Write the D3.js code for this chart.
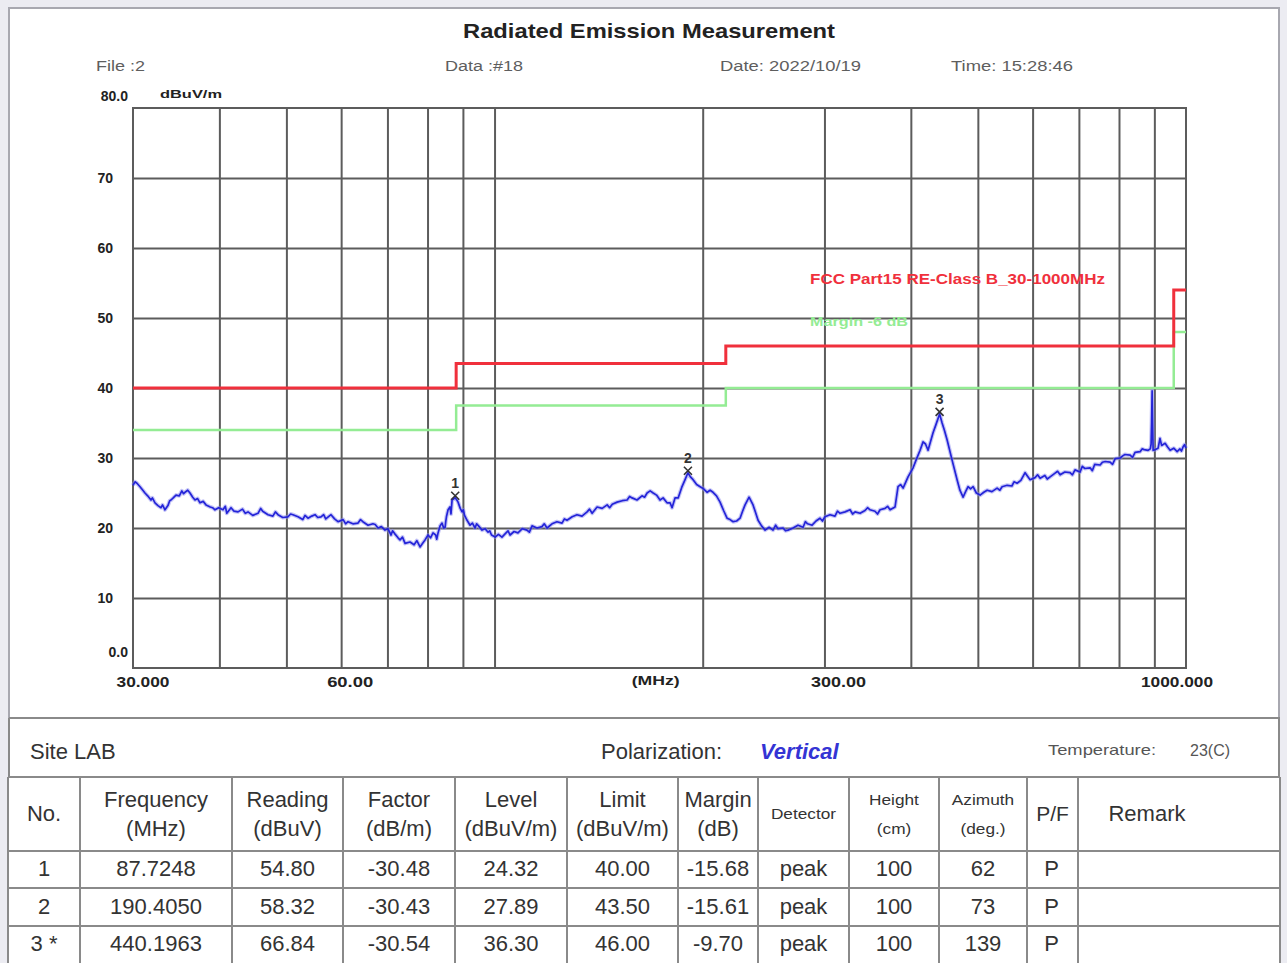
<!DOCTYPE html>
<html><head><meta charset="utf-8">
<script src="https://cdn.jsdelivr.net/npm/d3@7"></script>
<style>
body{margin:0;background:#ececf2}
svg{display:block}
text{font-family:"Liberation Sans",Arial,sans-serif}
</style>
</head><body>
<svg id="c" width="1287" height="963"></svg>
<script>
// ---------------- data ----------------
const traceFreq = [30.0,30.4,30.71,31.0,31.22,31.5,31.85,32.0,32.28,32.6,32.93,33.1,33.37,33.7,34.05,34.3,34.62,35.0,35.3,35.67,36.0,36.27,36.6,36.88,37.2,37.5,37.9,38.26,38.8,39.42,39.9,40.48,41.0,41.58,42.0,42.56,43.2,44.0,44.7,45.49,46.2,47.03,47.8,48.62,49.4,50.27,51.1,51.97,52.8,53.73,54.4,55.0,55.5,56.11,57.0,58.01,58.7,59.38,60.4,61.39,62.4,63.47,64.5,65.62,66.7,67.85,68.6,69.44,70.1,70.85,71.7,72.52,73.0,73.6,74.23,75.47,76.5,78.03,78.8,79.34,80.14,80.8,81.48,82.2,82.85,83.4,83.96,84.4,84.81,85.2,85.66,86.2,86.81,87.72,88.2,88.56,89.2,89.75,90.5,91.25,92.17,92.9,93.72,94.8,95.93,96.9,97.87,99.0,100.2,101.3,102.5,103.9,105.3,106.7,108.1,109.7,111.4,113.3,115.2,117.1,119.1,121.1,123.1,125.2,127.3,129.5,131.6,133.8,136.1,138.4,140.7,143.1,145.5,148.0,150.4,153.0,155.5,158.1,160.7,163.4,166.2,167.9,169.6,171.5,173.5,175.3,177.6,179.4,180.6,182.4,184.3,186.5,188.6,190.4,192.0,193.7,196.0,198.3,200.6,203.0,205.0,207.0,209.4,211.9,214.4,216.9,219.1,221.3,223.9,226.5,228.4,230.3,233.4,236.5,238.5,240.5,243.3,246.2,249.5,252.8,257.0,261.4,265.7,270.2,274.7,279.4,283.6,287.9,291.7,295.6,300.5,305.6,310.7,316.0,321.3,326.7,332.2,337.8,343.4,349.2,355.0,361.0,367.1,373.3,379.5,383.3,386.5,389.8,396.3,403.0,407.0,412.5,416.6,420.0,423.6,430.7,435.0,440.2,443.9,447.5,451.3,458.9,466.6,471.0,476.0,480.0,484.0,488.0,492.2,497.5,503.8,510.0,515.7,524.0,533.1,542.0,551.2,560.0,569.8,577.0,585.2,590.0,595.0,605.0,615.2,625.0,636.0,646.0,657.6,668.0,679.8,691.0,702.8,714.0,726.6,738.0,751.3,764.0,776.7,790.0,803.0,816.0,830.2,844.0,858.3,870.0,881.5,888.0,890.3,891.8,893.3,894.8,896.3,903.0,911.3,922.0,932.8,940.0,948.5,960.0,970.9,980.0,990.5,995.0,1000.0,
  30.2,33.9,35.5,39.1,40.8,43.6,45.9,48.2,50.7,53.2,56.6,60.9,64.0,67.2,71.2,77.2,82.5,85.0,86.5,90.1,94.2,98.4,104.6,112.3,118.0,126.2,137.2,146.7,156.8,164.8,255.0,263.5,281.5,298.0,313.3,329.5,346.3,358.0,370.2,538.0,564.0,610.0,630.0,652.0,685.0,708.0,732.0,757.0,783.0,810.0,837.0,864.0,917.0,985.0];
const traceLevel = [26.1,26.4,25.9,25.4,25.0,24.6,24.0,24.3,23.6,23.2,22.9,23.3,22.6,23.2,24.0,24.3,24.7,24.6,25.3,25.1,25.4,25.0,24.4,24.0,24.2,23.6,23.8,23.3,23.0,22.6,22.9,22.6,22.1,22.9,22.4,22.3,22.7,22.3,21.8,22.1,22.4,21.9,21.7,21.9,21.5,21.6,21.9,21.6,21.2,21.4,21.7,21.9,21.5,21.6,21.3,21.9,21.3,20.9,21.2,20.9,20.6,20.7,20.9,20.4,20.6,20.0,20.2,19.7,19.9,19.0,19.2,18.6,18.3,18.7,17.8,18.0,17.6,17.3,17.9,18.3,19.0,18.6,19.3,19.0,19.3,20.3,20.7,20.0,20.1,21.6,22.6,23.0,24.0,24.32,24.0,23.7,22.8,22.3,21.8,21.1,20.4,20.7,20.0,20.3,19.7,19.9,19.4,19.0,18.7,19.1,18.7,19.3,19.0,19.5,19.3,19.9,19.7,20.3,20.0,20.2,20.0,20.6,20.9,20.7,21.1,21.6,21.9,21.7,22.3,22.1,23.0,22.8,23.3,23.4,23.7,23.9,24.0,24.3,24.0,24.6,25.0,25.3,25.0,24.7,24.0,24.3,23.6,23.6,22.9,24.3,24.3,25.8,26.9,27.89,27.3,26.9,26.2,25.9,25.6,25.1,25.4,25.1,24.6,23.7,22.5,21.4,21.2,20.9,21.0,21.4,22.4,23.3,24.4,23.3,22.2,21.1,20.3,19.7,20.1,19.7,19.9,20.0,19.7,20.0,20.4,20.1,20.6,20.4,21.0,21.4,21.6,21.9,21.7,22.1,22.3,22.6,22.3,22.1,22.5,22.6,22.4,22.6,22.8,22.6,23.0,25.9,26.2,25.7,27.3,28.6,29.7,31.1,32.3,32.0,31.1,33.6,34.8,36.3,35.0,33.9,32.6,29.7,26.9,25.4,24.4,25.2,25.9,25.6,25.9,25.0,24.7,25.1,25.4,25.2,25.7,25.9,26.1,26.0,26.4,26.8,27.9,27.4,26.9,27.2,27.1,27.5,27.3,27.8,27.6,28.0,27.9,28.3,28.0,28.5,28.6,29.1,29.0,29.5,29.4,29.9,30.0,30.5,30.4,30.8,30.9,31.2,31.1,31.3,32.0,35.1,39.6,35.0,31.1,31.2,31.4,31.8,32.1,31.6,31.1,31.4,30.9,31.3,31.6,31.9,31.4,
  26.6,23.9,24.9,22.9,23.1,22.1,22.8,22.3,22.0,21.8,21.9,20.6,21.2,20.5,19.6,18.2,18.4,20.9,22.0,22.6,20.6,19.6,19.6,19.4,20.6,21.3,22.7,22.9,24.5,24.4,20.4,19.6,20.9,21.0,22.4,22.0,22.9,22.0,23.1,25.4,26.6,27.6,27.0,28.1,27.6,28.8,28.2,29.4,29.1,30.3,30.1,31.3,32.8,31.0];

const limitFreq = [30, 88, 216, 960, 1000];
const limitLevel = [40, 43.5, 46, 54, 54];
const marginLevel = [34, 37.5, 40, 48, 48];

const markerNo = ["1", "2", "3"];
const markerFreq = [87.7248, 190.4050, 440.1963];
const markerLevel = [24.32, 27.89, 36.30];

const yTicks = [0, 10, 20, 30, 40, 50, 60, 70, 80];
const yTickLabels = ["0.0", "10", "20", "30", "40", "50", "60", "70", "80.0"];
const xGridValues = [40, 50, 60, 70, 80, 90, 100, 200, 300, 400, 500, 600, 700, 800, 900];
const xTickValues = [30, 60, 300, 1000];
const xTickLabels = ["30.000", "60.00", "300.00", "1000.000"];

const tableNo = ["1", "2", "3 *"];
const tableFreq = ["87.7248", "190.4050", "440.1963"];
const tableReading = ["54.80", "58.32", "66.84"];
const tableFactor = ["-30.48", "-30.43", "-30.54"];
const tableLevel = ["24.32", "27.89", "36.30"];
const tableLimit = ["40.00", "43.50", "46.00"];
const tableMargin = ["-15.68", "-15.61", "-9.70"];
const tableDetector = ["peak", "peak", "peak"];
const tableHeight = ["100", "100", "100"];
const tableAzimuth = ["62", "73", "139"];
const tablePF = ["P", "P", "P"];

// ---------------- drawing ----------------
const svg = d3.select("#c");
const plot = {l: 133, r: 1186, t: 108, b: 668};
const x = d3.scaleLog().domain([30, 1000]).range([plot.l, plot.r]);
const y = d3.scaleLinear().domain([0, 80]).range([plot.b, plot.t]);
const gridCol = "#5c5c5c";

svg.append("rect").attr("x", 9).attr("y", 8).attr("width", 1270).attr("height", 710)
  .attr("fill", "#fff").attr("stroke", "#a8a8b0").attr("stroke-width", 2);
svg.append("rect").attr("x", 9).attr("y", 718).attr("width", 1271).attr("height", 250)
  .attr("fill", "#fff");

// header
svg.append("text").attr("x", 649).attr("y", 38).attr("text-anchor", "middle")
  .attr("font-size", 21).attr("font-weight", "bold").attr("fill", "#222")
  .attr("textLength", 372).attr("lengthAdjust", "spacingAndGlyphs")
  .text("Radiated Emission Measurement");
const info = [["File :2", 96, 49], ["Data :#18", 445, 78], ["Date: 2022/10/19", 720, 141], ["Time: 15:28:46", 951, 122]];
svg.selectAll("text.info").data(info).join("text").attr("class", "info")
  .attr("x", d => d[1]).attr("y", 71).attr("font-size", 15.5).attr("fill", "#5e5e5e")
  .attr("textLength", d => d[2]).attr("lengthAdjust", "spacingAndGlyphs")
  .text(d => d[0]);

// grid via axes
const gx = svg.append("g").attr("transform", `translate(0,${plot.b})`)
  .call(d3.axisBottom(x).tickValues(xGridValues).tickSize(-(plot.b - plot.t)).tickFormat(""));
const gy = svg.append("g").attr("transform", `translate(${plot.l},0)`)
  .call(d3.axisLeft(y).tickValues(yTicks.slice(1, -1)).tickSize(-(plot.r - plot.l)).tickFormat(""));
[gx, gy].forEach(g => {
  g.select(".domain").remove();
  g.selectAll("line").attr("stroke", gridCol).attr("stroke-width", 2);
});
svg.append("rect").attr("x", plot.l).attr("y", plot.t).attr("width", plot.r - plot.l)
  .attr("height", plot.b - plot.t).attr("fill", "none").attr("stroke", gridCol).attr("stroke-width", 2);

// y labels
svg.selectAll("text.ylab").data(yTicks).join("text").attr("class", "ylab")
  .attr("x", (d, i) => (i === 0 || i === yTicks.length - 1) ? 128 : 113)
  .attr("y", (d, i) => y(d) + ((i === 0) ? -11 : (i === yTicks.length - 1 ? -7 : 5)))
  .attr("text-anchor", "end").attr("font-size", 14).attr("font-weight", "bold").attr("fill", "#222")
  .text((d, i) => yTickLabels[i]);
svg.append("text").attr("x", 160).attr("y", 98).attr("font-size", 11.5).attr("font-weight", "bold")
  .attr("fill", "#222").attr("textLength", 62).attr("lengthAdjust", "spacingAndGlyphs").text("dBuV/m");

// x labels
const xLabDx = [10, 9, 14, -9];
const xLabW = [53, 46, 55, 72];
svg.selectAll("text.xlab").data(xTickValues).join("text").attr("class", "xlab")
  .attr("x", (d, i) => x(d) + xLabDx[i] - xLabW[i] / 2).attr("y", 687)
  .attr("font-size", 14.5).attr("font-weight", "bold").attr("fill", "#222")
  .attr("textLength", (d, i) => xLabW[i]).attr("lengthAdjust", "spacingAndGlyphs")
  .text((d, i) => xTickLabels[i]);
svg.append("text").attr("x", x(171) - 24).attr("y", 685)
  .attr("font-size", 13).attr("font-weight", "bold").attr("fill", "#222")
  .attr("textLength", 48).attr("lengthAdjust", "spacingAndGlyphs").text("(MHz)");

// limit lines
const stepLine = d3.line().x(d => x(d[0])).y(d => y(d[1])).curve(d3.curveStepAfter);
svg.append("path").datum(limitFreq.map((f, i) => [f, marginLevel[i]]))
  .attr("d", stepLine).attr("fill", "none").attr("stroke", "#94ec94").attr("stroke-width", 2.5);
svg.append("path").datum(limitFreq.map((f, i) => [f, limitLevel[i]]))
  .attr("d", stepLine).attr("fill", "none").attr("stroke", "#f0303c").attr("stroke-width", 3);

// legend labels
svg.append("text").attr("x", 810).attr("y", 284).attr("font-size", 14).attr("font-weight", "bold")
  .attr("fill", "#f0303c").attr("textLength", 295).attr("lengthAdjust", "spacingAndGlyphs")
  .text("FCC Part15 RE-Class B_30-1000MHz");
svg.append("text").attr("x", 810).attr("y", 326).attr("font-size", 13.5).attr("font-weight", "bold")
  .attr("fill", "#94ec94").attr("textLength", 98).attr("lengthAdjust", "spacingAndGlyphs")
  .text("Margin -6 dB");

// trace
const traceLine = d3.line().x(d => x(d[0])).y(d => y(d[1]));
const traceData = traceFreq.map((f, i) => [f, traceLevel[i]]).sort((a, b) => a[0] - b[0]);
svg.append("path").datum(traceData).attr("d", traceLine).attr("fill", "none")
  .attr("stroke", "#8c8cf0").attr("stroke-width", 4).attr("stroke-opacity", 0.5).attr("stroke-linejoin", "round");
svg.append("path").datum(traceData).attr("d", traceLine).attr("fill", "none")
  .attr("stroke", "#2424d8").attr("stroke-width", 1.7).attr("stroke-linejoin", "round");

// markers
const mk = svg.selectAll("g.mk").data(markerFreq).join("g").attr("class", "mk")
  .attr("transform", (d, i) => `translate(${x(d)},${y(markerLevel[i]) - 2})`);
mk.append("path").attr("d", "M-4,-4L4,4M-4,4L4,-4").attr("stroke", "#333").attr("stroke-width", 1.6);
mk.append("text").attr("y", -8).attr("text-anchor", "middle").attr("font-size", 14).attr("font-weight", "bold")
  .attr("fill", "#333").text((d, i) => markerNo[i]);

// site row
const lineCol = "#8a8a8a";
svg.append("line").attr("x1", 9).attr("x2", 1280).attr("y1", 718).attr("y2", 718).attr("stroke", lineCol).attr("stroke-width", 2);
svg.append("line").attr("x1", 9).attr("x2", 9).attr("y1", 718).attr("y2", 777).attr("stroke", lineCol).attr("stroke-width", 2);
svg.append("line").attr("x1", 1279).attr("x2", 1279).attr("y1", 718).attr("y2", 777).attr("stroke", lineCol).attr("stroke-width", 2);
svg.append("text").attr("x", 30).attr("y", 759).attr("font-size", 22).attr("fill", "#333").text("Site LAB");
svg.append("text").attr("x", 601).attr("y", 759).attr("font-size", 22).attr("fill", "#333").text("Polarization:");
svg.append("text").attr("x", 760).attr("y", 759).attr("font-size", 22).attr("font-weight", "bold")
  .attr("font-style", "italic").attr("fill", "#3434d4").text("Vertical");
svg.append("text").attr("x", 1048).attr("y", 755).attr("font-size", 15).attr("fill", "#555")
  .attr("textLength", 108).attr("lengthAdjust", "spacingAndGlyphs").text("Temperature:");
svg.append("text").attr("x", 1190).attr("y", 756).attr("font-size", 16).attr("fill", "#555").text("23(C)");

// table grid
const colX = [8, 80, 232, 343, 455, 567, 678, 758, 849, 939, 1027, 1078, 1280];
const rowY = [777, 851, 888, 926, 963];
svg.selectAll("line.h").data(rowY.slice(0, 4)).join("line").attr("class", "h")
  .attr("x1", 8).attr("x2", 1280).attr("y1", d => d).attr("y2", d => d)
  .attr("stroke", lineCol).attr("stroke-width", 2);
svg.selectAll("line.v").data(colX).join("line").attr("class", "v")
  .attr("x1", d => d).attr("x2", d => d).attr("y1", 777).attr("y2", 963)
  .attr("stroke", lineCol).attr("stroke-width", 2);

const colC = colX.slice(0, -1).map((d, i) => (d + colX[i + 1]) / 2);
const headers = [
  [["No."], 22, false], [["Frequency", "(MHz)"], 22, false], [["Reading", "(dBuV)"], 22, false],
  [["Factor", "(dB/m)"], 22, false], [["Level", "(dBuV/m)"], 22, false], [["Limit", "(dBuV/m)"], 22, false],
  [["Margin", "(dB)"], 22, false], [["Detector"], 15, true], [["Height", "(cm)"], 15, true],
  [["Azimuth", "(deg.)"], 15, true], [["P/F"], 21, false], [["Remark"], 22, false]
];
const hdrX = colC.slice(); hdrX[11] = 1147;
headers.forEach((h, i) => {
  const lines = h[0];
  lines.forEach((t, j) => {
    const yy = lines.length === 1 ? 821 : (j === 0 ? 807 : 836);
    const tx = svg.append("text").attr("x", hdrX[i]).attr("y", h[2] ? yy - 2 : yy)
      .attr("text-anchor", "middle").attr("font-size", h[1]).attr("fill", "#333").text(t);
    if (h[2]) tx.attr("transform", `translate(${hdrX[i]},0) scale(1.15,1) translate(${-hdrX[i]},0)`);
  });
});

const cols = [tableNo, tableFreq, tableReading, tableFactor, tableLevel, tableLimit, tableMargin,
  tableDetector, tableHeight, tableAzimuth, tablePF];
const rowMid = [876, 914, 951];
cols.forEach((col, ci) => {
  svg.selectAll(`text.c${ci}`).data(col).join("text").attr("class", `c${ci}`)
    .attr("x", ci === 10 ? colC[ci] - 1 : colC[ci]).attr("y", (d, i) => rowMid[i])
    .attr("text-anchor", "middle").attr("font-size", 22).attr("fill", "#333").text(d => d);
});
</script>
</body></html>
